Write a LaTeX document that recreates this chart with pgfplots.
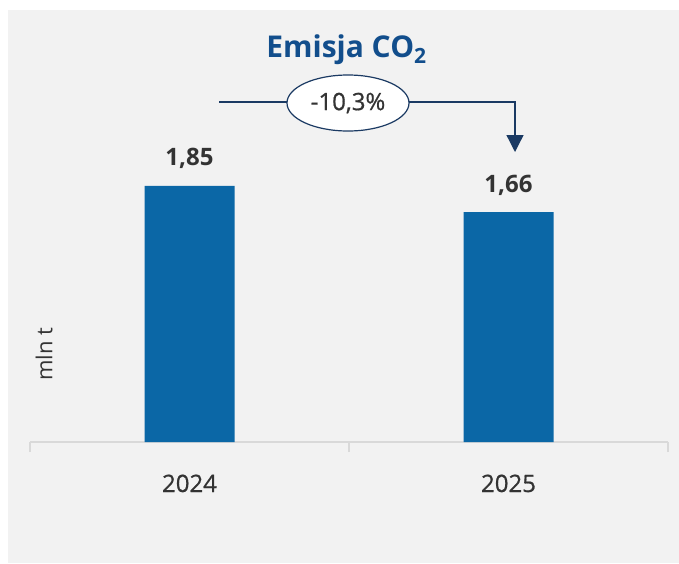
\documentclass[border=0pt]{standalone}
\usepackage{fontspec}
\setmainfont{Open Sans}
\newfontfamily\medium{Open Sans}[FakeBold=0.7]
\usepackage{pgfplots}
\pgfplotsset{compat=1.18}
\usetikzlibrary{arrows.meta}
\definecolor{bgc}{HTML}{F2F2F2}
\definecolor{barc}{HTML}{0B67A6}
\definecolor{titlec}{HTML}{124E8C}
\definecolor{navy}{HTML}{1B3A63}
\definecolor{txt}{HTML}{333333}
\definecolor{axc}{HTML}{D9D9D9}
\begin{document}
\begin{tikzpicture}[x=1pt,y=1pt]
\useasboundingbox (0,0) rectangle (679,-563);
\fill[bgc] (8,-10) rectangle (679,-563);
\begin{axis}[
  anchor=south west, at={(30pt,-442pt)},
  scale only axis, width=638pt, height=432pt,
  xmin=-0.5, xmax=1.5, ymin=0, ymax=3.119,
  axis x line=bottom, axis y line=none,
  axis line style={draw=axc, line width=2pt, -},
  xtick={0,1}, xticklabels={2024,2025},
  major tick length=0pt,
  extra x ticks={-0.5,0.5,1.5},
  extra x tick labels={},
  extra x tick style={major tick length=10pt, tick align=outside, tick style={draw=axc, line width=2pt}},
  xticklabel style={anchor=base, yshift=-50pt, font=\medium\fontsize{24}{28}\selectfont, text=txt},
  ybar, bar width=90pt,
  nodes near coords, point meta=explicit symbolic,
  nodes near coords style={anchor=base, yshift=20pt, font=\bfseries\fontsize{24}{28}\selectfont, text=txt},
  clip=false,
]
\addplot[fill=barc, draw=none] coordinates {(0,1.85) [1,85] (1,1.66) [1,66]};
\end{axis}
\node[anchor=base, text=titlec, font=\bfseries\fontsize{30}{34}\selectfont] at (346.5,-57) {Emisja CO\textsubscript{2}};
\draw[navy, line width=1.3pt] (219,-102) -- (348,-102);
\draw[navy, line width=1.3pt, -{Triangle[width=17pt,length=17pt]}] (348,-102) -- (515,-102) -- (515,-152);
\draw[navy, line width=1.2pt, fill=white] (348,-103) ellipse (61 and 28);
\node[text=txt, font=\medium\fontsize{24}{28}\selectfont] at (348,-103) {-10,3\%};
\node[rotate=90, text=txt, font=\fontsize{22}{26}\selectfont] at (44,-354) {mln t};
\end{tikzpicture}
\end{document}
